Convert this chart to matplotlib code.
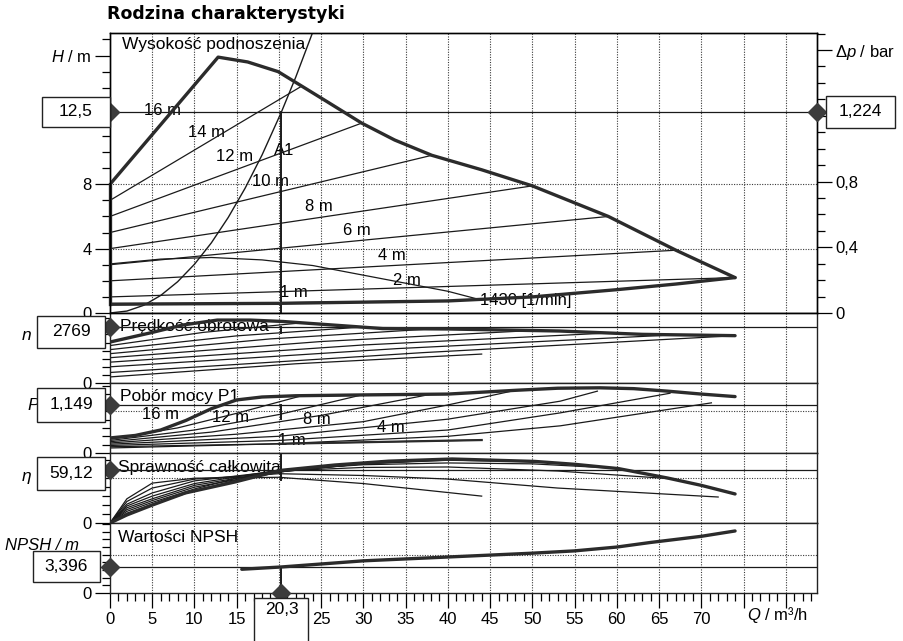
import matplotlib
matplotlib.use("Agg")
import matplotlib.pyplot as plt
import numpy as np
from matplotlib.patches import Rectangle

plt.rcParams.update({
    "font.family": ["Liberation Sans", "DejaVu Sans"],
    "font.size": 12,
    "mathtext.fontset": "custom",
    "mathtext.rm": "Liberation Sans",
    "mathtext.it": "Liberation Sans:italic",
})

# ---------------- data ----------------
SET_LABELS = ["14 m", "12 m", "10 m", "8 m", "6 m", "4 m", "2 m", "1 m"]

# operating point A1
OP_Q = 20.3
OP_H = 12.5
OP_DP = 1.224
OP_N = 2769
OP_P = 1.149
OP_ETA = 59.12
OP_NPSH = 3.396
BAR_PER_M = 0.0979

# head panel
H_ENV_Q = [0, 12.8, 16.3, 19.9, 22.7, 25.8, 29.8, 33.7, 38.1, 44, 50, 59, 67, 74]
H_ENV_H = [8, 15.9, 15.6, 15.0, 14.1, 13.1, 11.8, 10.75, 9.8, 8.9, 7.9, 6.0, 3.9, 2.2]
H_MIN_Q = [0, 20, 40, 50, 60, 67, 74]
H_MIN_H = [0.55, 0.6, 0.75, 1.0, 1.45, 1.8, 2.2]
H_SET_Q = [[0, 22.7], [0, 29.8], [0, 38.1], [0, 50], [0, 59], [0, 67], [0, 74], [0, 44]]
H_SET_H = [[7, 14.1], [6, 11.8], [5, 9.8], [4, 7.9], [3, 6.0], [2, 3.9], [1, 2.2], [0.5, 0.8]]
N1430_Q = [0, 6, 12, 18, 24, 28.5, 34, 40, 44]
N1430_H = [3.05, 3.35, 3.45, 3.3, 2.95, 2.5, 1.95, 1.35, 0.8]
SYS_Q = [0, 2, 4, 6, 8, 10, 12, 14, 16, 18, 20.3, 22, 24]
SYS_H = [0, 0.12, 0.48, 1.09, 1.94, 3.03, 4.36, 5.94, 7.76, 9.82, 12.5, 14.67, 17.45]

# speed panel
N_ENV_Q = [0, 4.7, 8.6, 12.7, 16.6, 20.5, 26.4, 32.3, 40, 53.2, 63, 74]
N_ENV_N = [2025, 2470, 2865, 3110, 3110, 3040, 2865, 2690, 2670, 2570, 2405, 2340]
N_SET_Q = [[0, 11, 22.7], [0, 15, 29.8], [0, 19, 38.1], [0, 25, 50], [0, 30, 59],
           [0, 34, 67], [0, 37, 74], [0, 22, 44]]
N_SET_N = [[1850, 2500, 2975], [1650, 2330, 2765], [1450, 2180, 2675], [1250, 2050, 2595],
           [1030, 1880, 2470], [800, 1700, 2385], [520, 1500, 2340], [300, 950, 1430]]

# power panel
P_ENV_Q = [0, 3, 6, 9, 12, 15, 18, 22, 30, 40, 48, 53, 58, 62, 66, 70, 74]
P_ENV_P = [0.36, 0.42, 0.55, 0.78, 1.06, 1.27, 1.34, 1.37, 1.39, 1.41, 1.50, 1.55, 1.56,
           1.54, 1.48, 1.41, 1.35]
P_SET_Q = [[0, 8, 15, 22.7], [0, 10, 20, 29.8], [0, 12, 25, 38.1], [0, 15, 30, 40, 48],
           [0, 20, 40, 53.3, 57.7], [0, 20, 40, 53.3, 66.3], [0, 20, 40, 53.3, 71.2], [0, 20, 44]]
P_SET_P = [[0.33, 0.6, 0.95, 1.37], [0.30, 0.55, 0.92, 1.39], [0.27, 0.5, 0.9, 1.41],
           [0.24, 0.45, 0.75, 1.15, 1.50], [0.21, 0.4, 0.81, 1.24, 1.48],
           [0.18, 0.3, 0.55, 0.96, 1.43], [0.15, 0.22, 0.4, 0.65, 1.2], [0.12, 0.22, 0.31]]

# efficiency panel
ETA_ENV_Q = [0, 2, 5, 8.9, 14.8, 20.1, 26.6, 33, 40.5, 50.3, 55, 60.2, 66, 70, 74]
ETA_ENV_E = [0, 9, 20, 33.5, 45.8, 58.6, 64.7, 69, 71.4, 68.7, 65.5, 60.7, 50.2, 42, 32.4]
ETA_SET_Q = [[0, 2, 5, 10, 15, 22.7], [0, 2, 5, 10, 15, 20, 29.8], [0, 2, 5, 10, 20, 30, 38.1],
             [0, 2, 5, 10, 20, 30, 40, 50], [0, 2, 5, 10, 20, 30, 40, 50, 59],
             [0, 2, 5, 10, 20, 30, 40, 53, 67], [0, 2, 5, 10, 20, 30, 40, 53, 72],
             [0, 2, 5, 10, 20, 30, 40, 44]]
ETA_SET_E = [[0, 11, 21, 36, 48, 61], [0, 13, 23, 38, 50, 57, 66], [0, 15, 25, 40, 57, 66, 70],
             [0, 17, 27, 42, 58, 66, 70, 68.5], [0, 19, 30, 44, 59, 65, 67, 66, 61.5],
             [0, 21, 33.5, 47, 58, 62, 62.5, 58, 49], [0, 24, 39, 49, 55, 53, 49, 39, 29],
             [0, 27, 44.5, 50, 51, 44, 34, 30]]

# NPSH panel
NPSH_Q = [15.6, 20.3, 30, 40, 50, 55, 60, 64, 70, 74]
NPSH_V = [3.1, 3.4, 4.2, 4.7, 5.2, 5.5, 6.0, 6.6, 7.4, 8.1]

X_TICKS = list(range(0, 85, 5))
X_TICK_LABELS = ["0", "5", "10", "15", "", "25", "30", "35", "40", "45", "50", "55",
                 "60", "65", "70", "", ""]

# ---------------- figure ----------------
W, HPX = 904, 641
THICK = "#2b2b2b"
THIN = "#1a1a1a"
GRID = "#3a3a3a"
MARK = "#3c3c3c"

fig = plt.figure(figsize=(W / 100, HPX / 100), dpi=100)
fig.patch.set_facecolor("white")
gs = fig.add_gridspec(5, 1, height_ratios=[280, 70, 70, 70, 70], hspace=0,
                      left=110 / W, right=817 / W, top=1 - 33 / HPX, bottom=1 - 593 / HPX)
ax_h = fig.add_subplot(gs[0])
ax_n = fig.add_subplot(gs[1], sharex=ax_h)
ax_p = fig.add_subplot(gs[2], sharex=ax_h)
ax_e = fig.add_subplot(gs[3], sharex=ax_h)
ax_s = fig.add_subplot(gs[4], sharex=ax_h)
axes = [ax_h, ax_n, ax_p, ax_e, ax_s]

ax_h.set_xlim(0, 83.7)
ax_h.set_ylim(0, 17.4)
ax_n.set_ylim(0, 3460)
ax_p.set_ylim(0, 1.675)
ax_e.set_ylim(0, 78.1)
ax_s.set_ylim(0, 9.14)

for ax in axes:
    for s in ax.spines.values():
        s.set_linewidth(1.0)
        s.set_color("#222")
    for q in X_TICKS[1:]:
        ax.axvline(q, color=GRID, lw=0.8, ls=(0, (1, 1.3)), zorder=0.5)
    ax.tick_params(axis="y", which="major", direction="out", length=11, width=0.9,
                   labelsize=12, pad=2)
    ax.tick_params(axis="y", which="minor", direction="out", length=6, width=0.9)
for ax in axes[:-1]:
    ax.tick_params(axis="x", which="both", bottom=False, labelbottom=False)


def dotted_h(ax, vals):
    for v in vals:
        ax.axhline(v, color=GRID, lw=0.8, ls=(0, (1, 1.3)), zorder=0.5)


# ---- head panel ----
dotted_h(ax_h, [4, 8])
ax_h.plot(H_ENV_Q, H_ENV_H, color=THICK, lw=2.4, solid_capstyle="round", zorder=3)
ax_h.plot(H_MIN_Q, H_MIN_H, color=THICK, lw=2.4, solid_capstyle="round", zorder=3)
ax_h.plot([0, 0], [H_MIN_H[0], H_ENV_H[0]], color=THICK, lw=2.4, clip_on=False, zorder=3)
for q, h in zip(H_SET_Q, H_SET_H):
    ax_h.plot(q, h, color=THIN, lw=0.9, zorder=2)
ax_h.plot(N1430_Q, N1430_H, color=THIN, lw=0.9, zorder=2)
ax_h.plot(SYS_Q, SYS_H, color=THIN, lw=1.0, zorder=2)
ax_h.axhline(OP_H, color=THIN, lw=0.9, zorder=2)
ax_h.plot([OP_Q, OP_Q], [0, OP_H], color=THIN, lw=1.4, zorder=2)

for txt, q, h in [("16 m", 6.2, 12.6), ("14 m", 11.4, 11.2), ("12 m", 14.8, 9.7),
                  ("A1", 20.6, 10.1), ("10 m", 19.0, 8.15), ("8 m", 24.7, 6.6),
                  ("6 m", 29.2, 5.1), ("4 m", 33.4, 3.55), ("2 m", 35.2, 2.05),
                  ("1 m", 21.8, 1.25)]:
    ax_h.text(q, h, txt, ha="center", va="center", fontsize=12, zorder=1)
ax_h.text(43.8, 0.75, "1430 [1/min]", ha="left", va="center", fontsize=12, zorder=1)
ax_h.text(1.4, 16.7, "Wysokość podnoszenia", ha="left", va="center", fontsize=12.5)

ax_h.set_yticks([0, 4, 8, 12, 16])
ax_h.set_yticklabels(["0", "4", "8", "", "$H$ / m"])
ax_h.set_yticks(np.arange(0, 18, 1), minor=True)

ax_dp = ax_h.twinx()
ax_dp.set_ylim(0, 17.4 * BAR_PER_M)
ax_dp.set_yticks([0, 0.4, 0.8, 1.2, 1.6])
ax_dp.set_yticklabels(["0", "0,4", "0,8", "", r"$\Delta p$ / bar"])
ax_dp.set_yticks(np.arange(0, 1.75, 0.1), minor=True)
ax_dp.tick_params(axis="y", which="major", direction="out", length=11, width=0.9,
                  labelsize=12, pad=2)
ax_dp.tick_params(axis="y", which="minor", direction="out", length=6, width=0.9)
for s in ax_dp.spines.values():
    s.set_linewidth(1.0)

# ---- speed panel ----
ax_n.plot(N_ENV_Q, N_ENV_N, color=THICK, lw=2.4, solid_capstyle="round", zorder=3)
for q, n in zip(N_SET_Q, N_SET_N):
    ax_n.plot(q, n, color=THIN, lw=0.9, zorder=2)
ax_n.axhline(OP_N, color=THIN, lw=0.9, zorder=2)
ax_n.plot([OP_Q, OP_Q], [OP_N * 0.9, OP_N], color=THIN, lw=1.4, zorder=2)
ax_n.text(1.2, OP_N, "Prędkość obrotowa", ha="left", va="center", fontsize=12.5, zorder=1)
ax_n.set_yticks([0])
ax_n.set_yticks(np.arange(400, 3460, 400), minor=True)

# ---- power panel ----
dotted_h(ax_p, [1.0])
ax_p.plot(P_ENV_Q, P_ENV_P, color=THICK, lw=2.4, solid_capstyle="round", zorder=3)
for q, p in zip(P_SET_Q, P_SET_P):
    ax_p.plot(q, p, color=THIN, lw=0.9, zorder=2)
ax_p.plot(P_SET_Q[-1][1:], P_SET_P[-1][1:], color=THICK, lw=1.6, zorder=2)
ax_p.axhline(OP_P, color=THIN, lw=0.9, zorder=2)
ax_p.plot([OP_Q, OP_Q], [OP_P * 0.7, OP_P], color=THIN, lw=1.4, zorder=2)
ax_p.text(1.2, 1.34, "Pobór mocy P1", ha="left", va="center", fontsize=12.5, zorder=1)
for txt, q, p in [("16 m", 6.0, 0.91), ("12 m", 14.3, 0.86), ("8 m", 24.5, 0.79),
                  ("4 m", 33.2, 0.60), ("1 m", 21.5, 0.31)]:
    ax_p.text(q, p, txt, ha="center", va="center", fontsize=12, zorder=1)
ax_p.set_yticks([0])
ax_p.set_yticks(np.arange(0.2, 1.675, 0.2), minor=True)

# ---- efficiency panel ----
dotted_h(ax_e, [50])
ax_e.plot(ETA_ENV_Q, ETA_ENV_E, color=THICK, lw=2.4, solid_capstyle="round", zorder=3)
for q, e in zip(ETA_SET_Q, ETA_SET_E):
    ax_e.plot(q, e, color=THIN, lw=0.9, zorder=2)
ax_e.axhline(OP_ETA, color=THIN, lw=0.9, zorder=2)
ax_e.plot([OP_Q, OP_Q], [OP_ETA * 0.82, 78.1], color=THIN, lw=1.4, zorder=2)
ax_e.text(1.0, 61.4, "Sprawność całkowita", ha="left", va="center", fontsize=12.5, zorder=1)
ax_e.set_yticks([0])
ax_e.set_yticks(np.arange(10, 78, 10), minor=True)

# ---- NPSH panel ----
dotted_h(ax_s, [5])
ax_s.plot(NPSH_Q, NPSH_V, color=THICK, lw=2.4, solid_capstyle="round", zorder=3)
ax_s.axhline(OP_NPSH, color=THIN, lw=0.9, zorder=2)
ax_s.plot([OP_Q, OP_Q], [0, OP_NPSH], color=THIN, lw=1.4, zorder=2)
ax_s.text(1.0, 7.2, "Wartości NPSH", ha="left", va="center", fontsize=12.5, zorder=1)
ax_s.set_yticks([0])
ax_s.set_yticks(np.arange(1, 9.14, 1), minor=True)

ax_s.set_xticks(X_TICKS)
ax_s.set_xticklabels(X_TICK_LABELS)
ax_s.set_xticks(np.arange(0, 84, 1), minor=True)
ax_s.tick_params(axis="x", which="major", direction="out", length=11, width=0.9,
                 labelsize=12, pad=3)
ax_s.tick_params(axis="x", which="minor", direction="out", length=6, width=0.9)
ax_s.text(79, -0.31, "$Q$ / m³/h", transform=ax_s.get_xaxis_transform(),
          ha="center", va="center", fontsize=12)

# ---- operating point markers ----
for ax, v in [(ax_h, OP_H), (ax_n, OP_N), (ax_p, OP_P), (ax_e, OP_ETA), (ax_s, OP_NPSH)]:
    ax.plot([0], [v], marker="D", ms=9, color=MARK, clip_on=False, zorder=6)
ax_dp.plot([83.7], [OP_DP], marker="D", ms=9, color=MARK, clip_on=False, zorder=6)
ax_s.plot([OP_Q], [0], marker="D", ms=9, color=MARK, clip_on=False, zorder=6)


def value_box(ax, yval, label, x0, x1, height=32, shift=0):
    # shift: box centre sits this many pixels below the value line
    y_disp = ax.transData.transform((0, yval))[1] - shift
    fig.add_artist(Rectangle((x0 / W, (y_disp - height / 2) / HPX), (x1 - x0) / W,
                             height / HPX, transform=fig.transFigure, facecolor="white",
                             edgecolor="#222", lw=1.0, zorder=5))
    fig.text((x0 + x1) / 2 / W, y_disp / HPX, label, ha="center", va="center",
             fontsize=12.5, zorder=6)


value_box(ax_h, OP_H, "12,5", 42, 110, 30)
value_box(ax_dp, OP_DP, "1,224", 826, 895, 32)
value_box(ax_n, OP_N, "2769", 37, 105, 32, shift=5)
value_box(ax_p, OP_P, "1,149", 37, 105, 34)
value_box(ax_e, OP_ETA, "59,12", 37, 105, 33, shift=3)
value_box(ax_s, OP_NPSH, "3,396", 33, 100, 31)

# box under the x axis for the flow
x_disp = ax_s.transData.transform((OP_Q, 0))[0]
fig.add_artist(Rectangle(((x_disp - 27) / W, -0.05), 54 / W, (0.05 + 1 - 598 / HPX),
                         transform=fig.transFigure, facecolor="white", edgecolor="#222",
                         lw=1.0, zorder=5))
fig.text(x_disp / W, 1 - 610 / HPX, "20,3", ha="center", va="center", fontsize=12.5, zorder=6)

# left-side quantity symbols
fig.text(27 / W, 1 - 335 / HPX, "n", ha="center", va="center", fontsize=12.5, style="italic")
fig.text(33 / W, 1 - 405 / HPX, "P", ha="center", va="center", fontsize=12.5, style="italic")
fig.text(27 / W, 1 - 477 / HPX, "η", ha="center", va="center", fontsize=12.5, style="italic")
fig.text(5 / W, 1 - 545 / HPX, "NPSH / m", ha="left", va="center", fontsize=12, style="italic")

fig.text(107 / W, 1 - 14 / HPX, "Rodzina charakterystyki", ha="left", va="center",
         fontsize=12.5, fontweight="bold", family="DejaVu Sans")

fig.savefig("out.png", dpi=100, facecolor="white")
